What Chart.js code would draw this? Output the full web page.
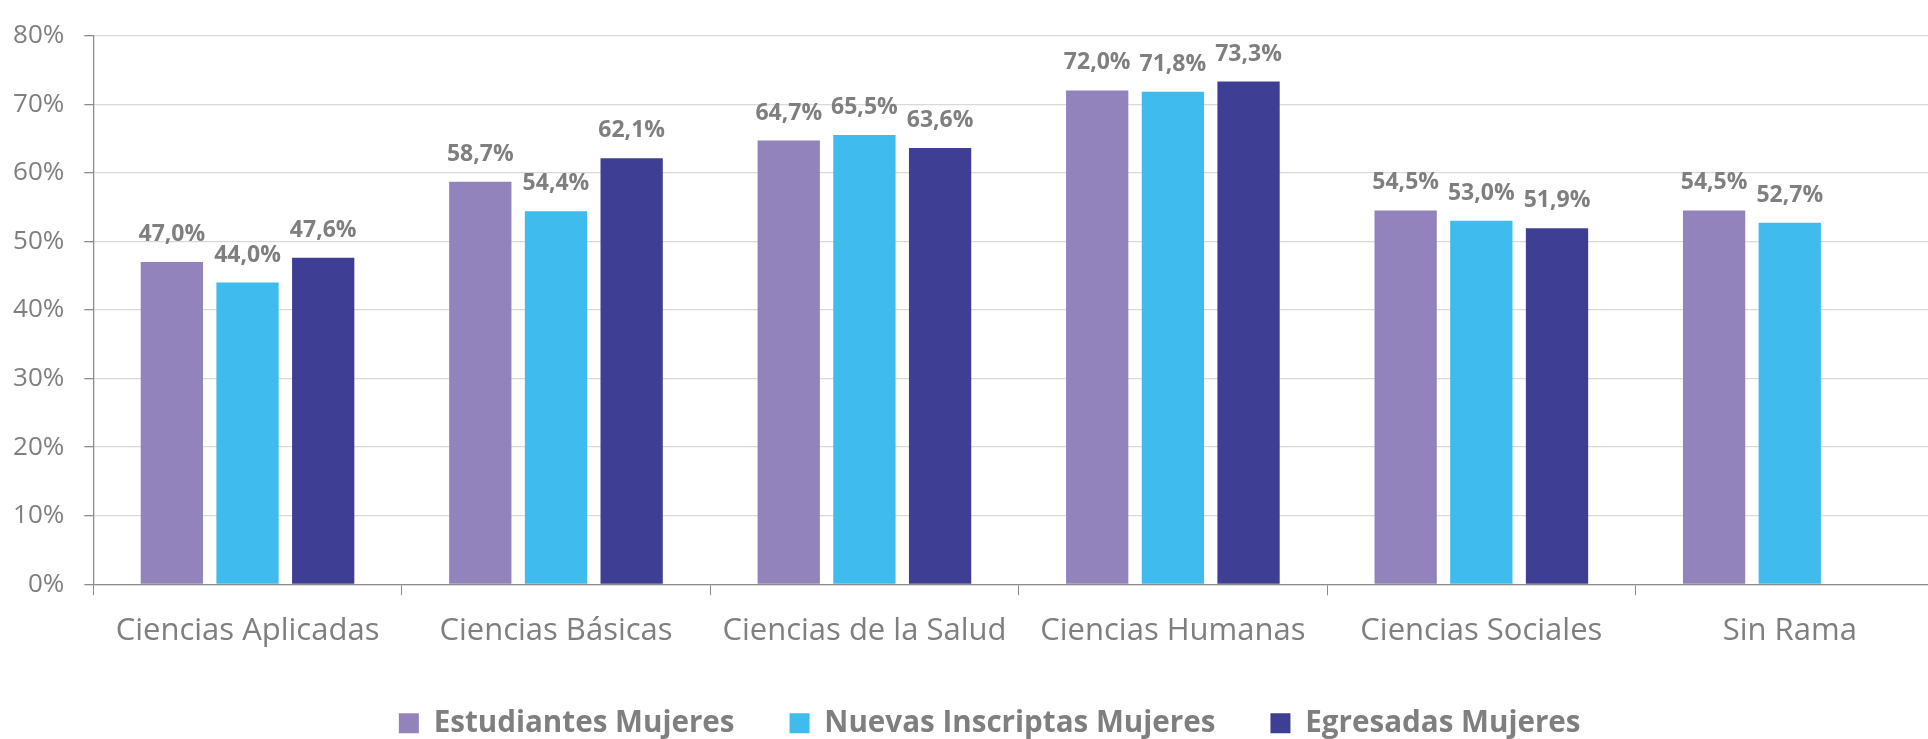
<!DOCTYPE html>
<html>
<head>
<meta charset="utf-8">
<script src="https://cdn.jsdelivr.net/npm/chart.js@4.4.0/dist/chart.umd.min.js"></script>
<style>
  html, body { margin: 0; padding: 0; background: #fff; overflow: hidden; }
  #wrap { width: 1944px; height: 748px; }
</style>
</head>
<body>
<div id="wrap"><canvas id="grafico"></canvas></div>
<script>
// Datos del gráfico
var ramas = ["Ciencias Aplicadas", "Ciencias Básicas", "Ciencias de la Salud", "Ciencias Humanas", "Ciencias Sociales", "Sin Rama"];
var estudiantesMujeres = [47.0, 58.7, 64.7, 72.0, 54.5, 54.5];
var nuevasInscriptasMujeres = [44.0, 54.4, 65.5, 71.8, 53.0, 52.7];
var egresadasMujeres = [47.6, 62.1, 63.6, 73.3, 51.9, null];
var ticksEjeY = [0, 10, 20, 30, 40, 50, 60, 70, 80];

var gris = "#7f7f7f";
var fuente = "'Open Sans', 'DejaVu Sans', sans-serif";

// Etiquetas de valor sobre cada barra
var etiquetasValor = {
  id: 'etiquetasValor',
  afterDatasetsDraw: function(chart) {
    var ctx = chart.ctx;
    ctx.save();
    ctx.font = "bold 23px " + fuente;
    ctx.fillStyle = gris;
    ctx.textAlign = "center";
    ctx.textBaseline = "alphabetic";
    chart.data.datasets.forEach(function(ds, i) {
      var meta = chart.getDatasetMeta(i);
      meta.data.forEach(function(bar, j) {
        var v = ds.data[j];
        if (v === null || v === undefined) return;
        ctx.fillText(v.toFixed(1).replace('.', ',') + '%', bar.x, bar.y - 21);
      });
    });
    ctx.restore();
  }
};

// La leyenda va un poco corrida a la derecha, como en el original
var moverLeyenda = {
  id: 'moverLeyenda',
  afterLayout: function(chart) {
    chart.legend.left += 17.7;
    chart.legend.right += 17.7;
  }
};

new Chart(document.getElementById("grafico"), {
  type: 'bar',
  data: {
    labels: ramas,
    datasets: [
      { label: "Estudiantes Mujeres", data: estudiantesMujeres, backgroundColor: "#9283bc", borderWidth: 0 },
      { label: "Nuevas Inscriptas Mujeres", data: nuevasInscriptasMujeres, backgroundColor: "#3fbbee", borderWidth: 0 },
      { label: "Egresadas Mujeres", data: egresadasMujeres, backgroundColor: "#3e3f94", borderWidth: 0 }
    ]
  },
  options: {
    responsive: true,
    maintainAspectRatio: false,
    animation: false,
    datasets: { bar: { categoryPercentage: 0.736, barPercentage: 0.823 } },
    layout: { padding: { left: 0, top: 24.3, right: 0, bottom: 0 } },
    plugins: {
      legend: {
        position: 'bottom',
        labels: {
          boxWidth: 20,
          boxHeight: 20,
          padding: 55,
          color: gris,
          font: { family: fuente, size: 29.6, weight: 'bold' }
        }
      },
      tooltip: { enabled: false }
    },
    scales: {
      x: {
        afterFit: function(scale) { scale.height = 69.1; },
        grid: { offset: true, drawOnChartArea: false, tickLength: 11, tickColor: "#8c8c8c" },
        border: { color: "#8c8c8c", width: 1.3 },
        ticks: { color: gris, padding: 17, font: { family: fuente, size: 31 } }
      },
      y: {
        min: 0,
        max: 80,
        afterFit: function(scale) { scale.width = 93.3; },
        afterBuildTicks: function(scale) {
          scale.ticks = ticksEjeY.map(function(v) { return { value: v }; });
        },
        grid: { color: "#d9d9d9", lineWidth: 1.3, tickLength: 9, tickColor: "#8c8c8c" },
        border: { color: "#8c8c8c", width: 1.3 },
        ticks: {
          color: gris,
          padding: 20,
          font: { family: fuente, size: 26 },
          callback: function(v) { return v + '%'; }
        }
      }
    }
  },
  plugins: [etiquetasValor, moverLeyenda]
});
</script>
</body>
</html>
